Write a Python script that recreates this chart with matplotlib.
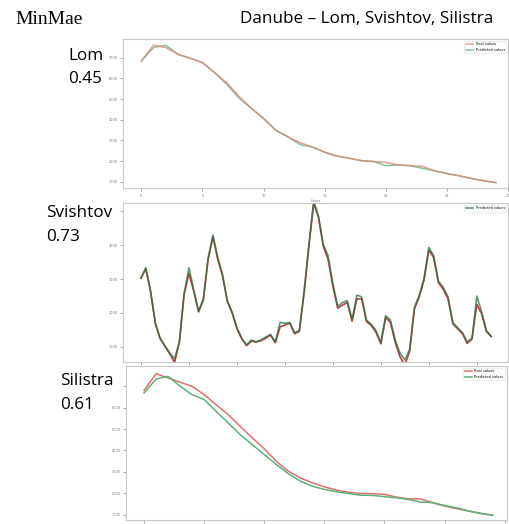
import matplotlib
matplotlib.use("Agg")
import matplotlib.pyplot as plt
import numpy as np

# ---------------- data ----------------
hours_a = list(range(30))
lom_real = [6840, 7600, 7490, 7160, 6970, 6760, 6270, 5780, 5120, 4550,
            4060, 3490, 3170, 2890, 2680, 2430, 2240, 2140, 2020, 1980,
            1940, 1810, 1780, 1750, 1530, 1400, 1290, 1160, 1050, 960]
lom_pred = [6840, 7490, 7600, 7160, 6970, 6760, 6270, 5700, 5040, 4550,
            4060, 3490, 3170, 2790, 2680, 2430, 2240, 2140, 2020, 1980,
            1780, 1810, 1780, 1650, 1530, 1400, 1290, 1160, 1050, 960]

# Svishtov: values read as pixel rows of the reference, converted to units
svi_rows_pred = [240, 212, 275, 360, 400, 420, 440, 455, 410, 280,
                 212, 272, 328, 295, 185, 125, 185, 230, 303, 330,
                 372, 400, 418, 405, 410, 405, 397, 390, 410, 358,
                 360, 358, 385, 380, 275, 150, 32, 75, 150, 180,
                 255, 315, 305, 300, 350, 285, 290, 352, 363, 380,
                 412, 340, 352, 405, 440, 458, 430, 318, 285, 240,
                 158, 180, 248, 264, 290, 358, 372, 385, 410, 400,
                 288, 330, 380, 395]
svi_rows_real = [240, 215, 275, 362, 402, 422, 442, 465, 410, 282,
                 228, 275, 330, 298, 190, 130, 190, 235, 300, 333,
                 375, 402, 420, 408, 410, 407, 400, 392, 412, 370,
                 365, 360, 388, 382, 280, 155, 40, 78, 155, 190,
                 262, 320, 312, 305, 355, 295, 295, 356, 366, 385,
                 415, 345, 358, 412, 450, 472, 435, 322, 290, 245,
                 165, 185, 252, 270, 295, 362, 375, 388, 414, 402,
                 310, 335, 382, 396]
svi_real = [round(5000 - (r - 62) / 90.25 * 1000) for r in svi_rows_real]
svi_pred = [round(5000 - (r - 62) / 90.25 * 1000) for r in svi_rows_pred]
hours_b = list(range(len(svi_real)))

sil_real = [6810, 7590, 7390, 7190, 7000, 6610, 6140, 5680, 5130, 4590,
            4080, 3500, 3030, 2720, 2490, 2300, 2150, 2050, 1990, 1980,
            1950, 1820, 1740, 1740, 1560, 1400, 1280, 1170, 1060, 970]
sil_pred = [6690, 7340, 7470, 7000, 6610, 6380, 5830, 5290, 4740, 4280,
            3810, 3350, 2920, 2570, 2330, 2180, 2070, 1990, 1910, 1900,
            1840, 1790, 1710, 1590, 1560, 1430, 1320, 1170, 1060, 970]

stations = ["Lom", "Svishtov", "Silistra"]
scores = ["0.45", "0.73", "0.61"]

yticks_a = [1000, 2000, 3000, 4000, 5000, 6000, 7000]
yticks_b = [1000, 2000, 3000, 4000, 5000]

RED = "#e0706a"
GREEN = "#5cb07a"

W, H = 510, 524
fig = plt.figure(figsize=(W / 100, H / 100), dpi=100)
fig.patch.set_facecolor("white")


def ax_at(l, t, r, b):
    return fig.add_axes([l / W, 1 - b / H, (r - l) / W, (b - t) / H])


def style(ax):
    for s in ax.spines.values():
        s.set_color("#c8c8c8")
        s.set_linewidth(0.8)
    ax.tick_params(axis="both", length=2, width=0.6, color="#999999",
                   labelsize=2.5, labelcolor="#777777", pad=2)


# Panel 1 - Lom
ax1 = ax_at(123, 39, 508, 188)
ax1.plot(hours_a, lom_pred, color=GREEN, lw=1.1, alpha=0.75, label="Predicted values")
ax1.plot(hours_a, lom_real, color="#d88a78", lw=1.1, alpha=0.8, label="Real values")
ax1.set_xlim(-1.5, 30)
ax1.set_ylim(700, 7900)
ax1.set_xticks([0, 5, 10, 15, 20, 25, 30])
ax1.set_yticks(yticks_a)
ax1.set_xlabel("Hours", fontsize=2.5, color="#777777", labelpad=1)
h, l = ax1.get_legend_handles_labels()
ax1.legend(h[::-1], l[::-1], loc="upper right", fontsize=2.5, frameon=True, framealpha=1,
           edgecolor="#eeeeee", handlelength=2)
style(ax1)

# Panel 2 - Svishtov
ax2 = ax_at(123, 203, 508, 362)
ax2.plot(hours_b, svi_real, color="#b8453e", lw=1.2)
ax2.plot(hours_b, svi_pred, color="#2a6e45", lw=1.2, alpha=0.75, label="Predicted values")
ax2.set_xlim(-3.75, 76.5)
ax2.set_ylim(550, 5250)
ax2.set_xticks([0, 10, 20, 30, 40, 50, 60, 70])
ax2.set_xticklabels([])
ax2.set_yticks(yticks_b)
# top tick label hidden behind the station label, as in the reference
ax2.set_yticklabels([str(v) for v in yticks_b[:-1]] + [""])
ax2.legend(loc="upper right", fontsize=2.5, frameon=True, framealpha=1,
           edgecolor="#eeeeee", handlelength=2)
style(ax2)

# Panel 3 - Silistra
ax3 = ax_at(126, 366, 507, 520)
ax3.plot(hours_a, sil_real, color=RED, lw=1.1, label="Real values")
ax3.plot(hours_a, sil_pred, color=GREEN, lw=1.1, label="Predicted values")
ax3.set_xlim(-1.5, 30.2)
ax3.set_ylim(750, 7950)
ax3.set_xticks([0, 5, 10, 15, 20, 25, 30])
ax3.set_xticklabels([])
ax3.set_yticks(yticks_a)
ax3.set_yticklabels([str(v) for v in yticks_a[:-1]] + [""])
ax3.legend(loc="upper right", fontsize=2.5, frameon=True, framealpha=1,
           edgecolor="#eeeeee", handlelength=2)
style(ax3)

# Texts
fig.text(15 / W, 1 - 20 / H, "MinMae", fontsize=14, family="Liberation Serif",
         va="center", ha="left")
fig.text(367 / W, 1 - 19 / H, "Danube \u2013 Lom, Svishtov, Silistra", fontsize=12.3,
         family="Open Sans", va="center", ha="center")

label_pos = [(68, 56, 79), (46, 213, 237), (60, 381, 405)]
for (x, y1, y2), st, sc in zip(label_pos, stations, scores):
    fig.text(x / W, 1 - y1 / H, st, fontsize=12.3, family="Open Sans",
             va="center", ha="left",
             bbox=dict(facecolor="white", edgecolor="none", pad=0.5))
    fig.text(x / W, 1 - y2 / H, sc, fontsize=12.3, family="Open Sans",
             va="center", ha="left",
             bbox=dict(facecolor="white", edgecolor="none", pad=0.5))

fig.savefig("out.png", dpi=100, facecolor="white")
